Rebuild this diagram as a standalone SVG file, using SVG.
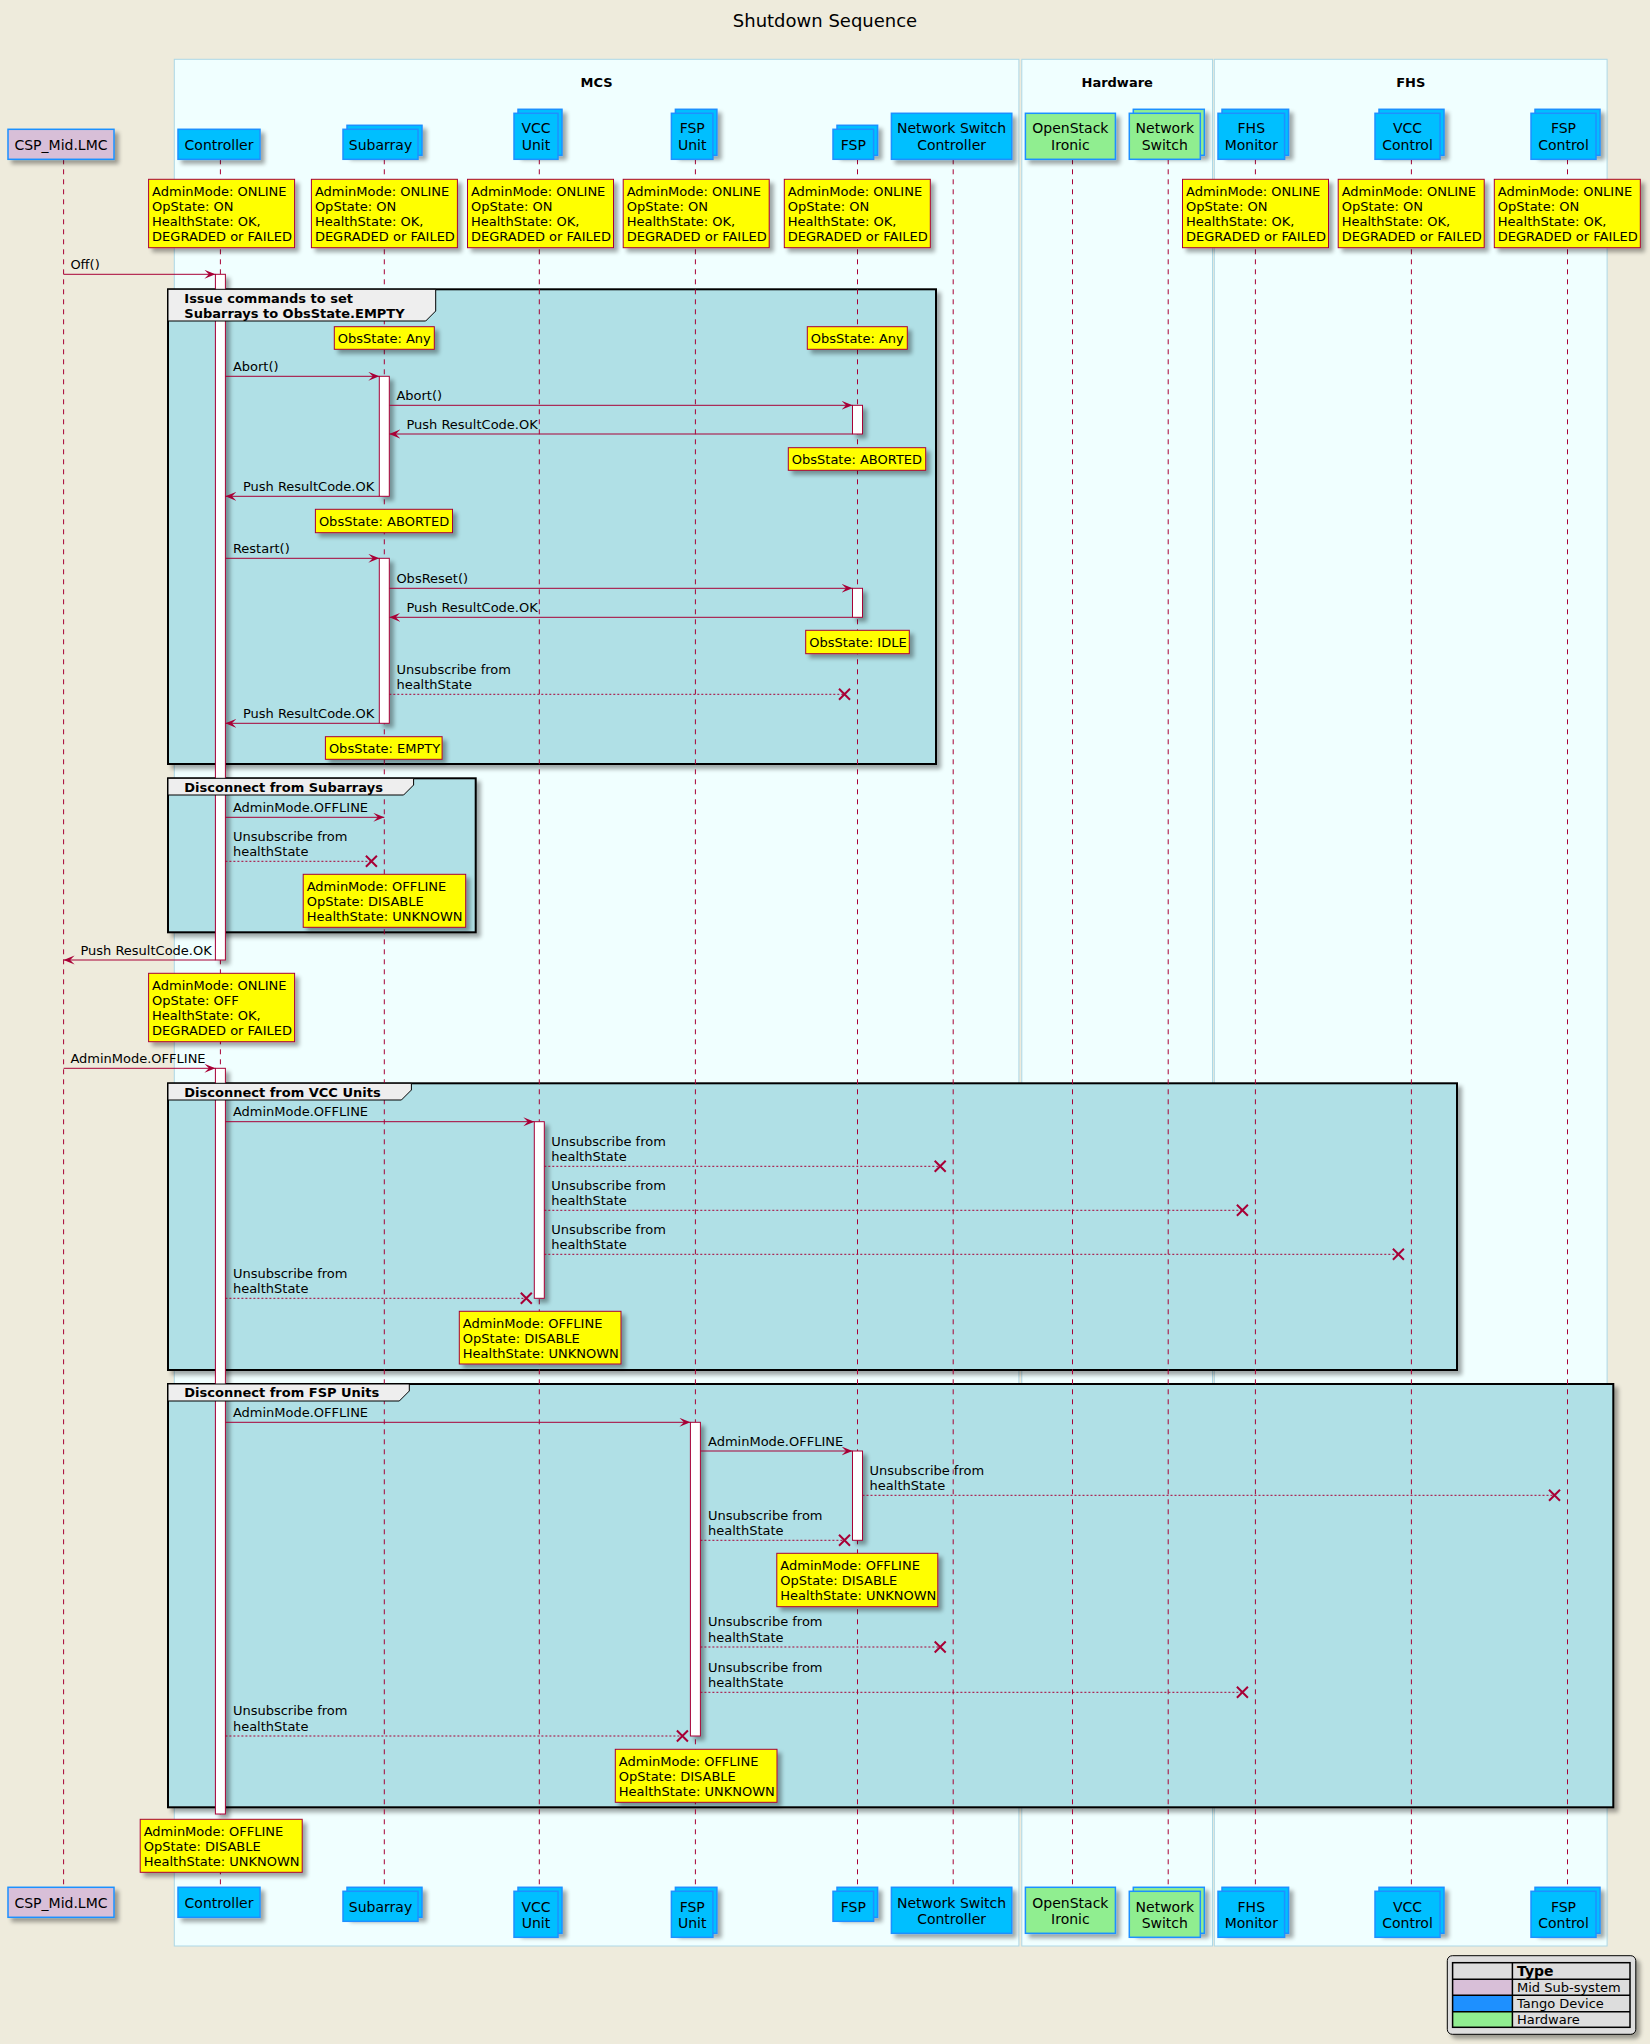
<svg xmlns="http://www.w3.org/2000/svg" width="1650" height="2044" viewBox="0 0 1650 2044">
<defs>
<style>
text{font-family:"DejaVu Sans","Liberation Sans",sans-serif;fill:#000}
.p{font-size:14px;text-anchor:middle}
.m{font-size:13px}
.bl{font-weight:bold}
.lf{stroke:#A80036;stroke-width:1;stroke-dasharray:5,5;fill:none}
.msg{stroke:#A80036;stroke-width:1;fill:none}
.dot{stroke-dasharray:2,2}
.x{stroke:#A80036;stroke-width:2;fill:none}
.note{fill:#FFFF00;stroke:#A80036;stroke-width:1}
.act{fill:#FFFFFF;stroke:#A80036;stroke-width:1}
.tango{fill:#00BFFF;stroke:#1E90FF;stroke-width:1.5}
.hw{fill:#90EE90;stroke:#1E90FF;stroke-width:1.5}
.mid{fill:#D8BFD8;stroke:#1E90FF;stroke-width:1.5}
.grp{fill:#B0E0E6;stroke:#000;stroke-width:2}
.tab{fill:#EEEEEE;stroke:#000;stroke-width:1}
.frame{fill:#F0FFFF;stroke:#ADD8E6;stroke-width:1}
.lg{font-size:13px}
</style>
<filter id="sh" filterUnits="userSpaceOnUse" x="0" y="0" width="1650" height="2044">
<feGaussianBlur in="SourceAlpha" stdDeviation="2"/>
<feOffset dx="4" dy="4"/>
<feComponentTransfer><feFuncA type="linear" slope="0.35"/></feComponentTransfer>
<feMerge><feMergeNode/><feMergeNode in="SourceGraphic"/></feMerge>
</filter>
<marker id="ah" markerUnits="userSpaceOnUse" markerWidth="12" markerHeight="10" refX="11" refY="4.5" orient="auto">
<path d="M0,0 L11,4.5 L0,9 L4.5,4.5 Z" fill="#A80036"/>
</marker>
</defs>
<rect x="0" y="0" width="1650" height="2044" fill="#EEEBDC"/>
<text x="825" y="27" style="font-size:18px" text-anchor="middle">Shutdown Sequence</text>

<g id="frames">
<rect class="frame" x="174.3" y="59.3" width="844.6" height="1886.7"/>
<rect class="frame" x="1021.8" y="59.3" width="190.7" height="1886.7"/>
<rect class="frame" x="1214.3" y="59.3" width="392.8" height="1886.7"/>
<text class="m bl" x="596.6" y="87" text-anchor="middle">MCS</text>
<text class="m bl" x="1117.2" y="87" text-anchor="middle">Hardware</text>
<text class="m bl" x="1410.7" y="87" text-anchor="middle">FHS</text>
</g>

<g id="groups">
<rect class="grp" filter="url(#sh)" x="168" y="289.3" width="768" height="474.7"/>
<rect class="grp" filter="url(#sh)" x="168" y="778.3" width="307.7" height="154"/>
<rect class="grp" filter="url(#sh)" x="168" y="1083.3" width="1289" height="286.7"/>
<rect class="grp" filter="url(#sh)" x="168" y="1384" width="1445.3" height="423.3"/>
</g>

<g id="lifelines">
<line class="lf" x1="63.6" y1="159.3" x2="63.6" y2="1887.3"/>
<line class="lf" x1="220.4" y1="159.3" x2="220.4" y2="1887.3"/>
<line class="lf" x1="384.3" y1="159.3" x2="384.3" y2="1887.3"/>
<line class="lf" x1="539.3" y1="159.3" x2="539.3" y2="1887.3"/>
<line class="lf" x1="695.4" y1="159.3" x2="695.4" y2="1887.3"/>
<line class="lf" x1="857.5" y1="159.3" x2="857.5" y2="1887.3"/>
<line class="lf" x1="953.2" y1="159.3" x2="953.2" y2="1887.3"/>
<line class="lf" x1="1072.5" y1="159.3" x2="1072.5" y2="1887.3"/>
<line class="lf" x1="1168.2" y1="159.3" x2="1168.2" y2="1887.3"/>
<line class="lf" x1="1255.4" y1="159.3" x2="1255.4" y2="1887.3"/>
<line class="lf" x1="1411.4" y1="159.3" x2="1411.4" y2="1887.3"/>
<line class="lf" x1="1567.5" y1="159.3" x2="1567.5" y2="1887.3"/>
</g>

<g id="p-lmc">
<rect class="mid" filter="url(#sh)" x="8" y="129.3" width="106" height="30"/>
<text class="p" x="61" y="150">CSP_Mid.LMC</text>
<rect class="mid" filter="url(#sh)" x="8" y="1887.3" width="106" height="30"/>
<text class="p" x="61" y="1907.5">CSP_Mid.LMC</text>
</g>
<g id="p-controller">
<rect class="tango" filter="url(#sh)" x="178" y="129.3" width="82" height="30"/>
<text class="p" x="219" y="150">Controller</text>
<rect class="tango" filter="url(#sh)" x="178" y="1887.3" width="82" height="30"/>
<text class="p" x="219" y="1907.5">Controller</text>
</g>
<g id="p-subarray">
<rect class="tango" filter="url(#sh)" x="347" y="125.3" width="75" height="30"/>
<rect class="tango" x="343" y="129.3" width="75" height="30"/>
<text class="p" x="380.5" y="150">Subarray</text>
<rect class="tango" filter="url(#sh)" x="347" y="1887.3" width="75" height="30"/>
<rect class="tango" x="343" y="1891.3" width="75" height="30"/>
<text class="p" x="380.5" y="1911.5">Subarray</text>
</g>
<g id="p-vccunit">
<rect class="tango" filter="url(#sh)" x="518" y="109.3" width="44" height="46"/>
<rect class="tango" x="514" y="113.3" width="44" height="46"/>
<text class="p" x="536" y="133">VCC</text><text class="p" x="536" y="149.5">Unit</text>
<rect class="tango" filter="url(#sh)" x="518" y="1887.3" width="44" height="46"/>
<rect class="tango" x="514" y="1891.3" width="44" height="46"/>
<text class="p" x="536" y="1911.5">VCC</text><text class="p" x="536" y="1928">Unit</text>
</g>
<g id="p-fspunit">
<rect class="tango" filter="url(#sh)" x="675.4" y="109.3" width="41.5" height="46"/>
<rect class="tango" x="671.4" y="113.3" width="41.5" height="46"/>
<text class="p" x="692.2" y="133">FSP</text><text class="p" x="692.2" y="149.5">Unit</text>
<rect class="tango" filter="url(#sh)" x="675.4" y="1887.3" width="41.5" height="46"/>
<rect class="tango" x="671.4" y="1891.3" width="41.5" height="46"/>
<text class="p" x="692.2" y="1911.5">FSP</text><text class="p" x="692.2" y="1928">Unit</text>
</g>
<g id="p-fsp">
<rect class="tango" filter="url(#sh)" x="837" y="125.3" width="40.6" height="30"/>
<rect class="tango" x="833" y="129.3" width="40.6" height="30"/>
<text class="p" x="853.3" y="150">FSP</text>
<rect class="tango" filter="url(#sh)" x="837" y="1887.3" width="40.6" height="30"/>
<rect class="tango" x="833" y="1891.3" width="40.6" height="30"/>
<text class="p" x="853.3" y="1911.5">FSP</text>
</g>
<g id="p-nsc">
<rect class="tango" filter="url(#sh)" x="891.4" y="113.3" width="120.4" height="46"/>
<text class="p" x="951.6" y="133">Network Switch</text><text class="p" x="951.6" y="149.5">Controller</text>
<rect class="tango" filter="url(#sh)" x="891.4" y="1887.3" width="120.4" height="46"/>
<text class="p" x="951.6" y="1907.5">Network Switch</text><text class="p" x="951.6" y="1924">Controller</text>
</g>
<g id="p-ironic">
<rect class="hw" filter="url(#sh)" x="1025.4" y="113.3" width="90" height="46"/>
<text class="p" x="1070.4" y="133">OpenStack</text><text class="p" x="1070.4" y="149.5">Ironic</text>
<rect class="hw" filter="url(#sh)" x="1025.4" y="1887.3" width="90" height="46"/>
<text class="p" x="1070.4" y="1907.5">OpenStack</text><text class="p" x="1070.4" y="1924">Ironic</text>
</g>
<g id="p-netswitch">
<rect class="hw" filter="url(#sh)" x="1133.3" y="109.3" width="71" height="46"/>
<rect class="hw" x="1129.3" y="113.3" width="71" height="46"/>
<text class="p" x="1164.8" y="133">Network</text><text class="p" x="1164.8" y="149.5">Switch</text>
<rect class="hw" filter="url(#sh)" x="1133.3" y="1887.3" width="71" height="46"/>
<rect class="hw" x="1129.3" y="1891.3" width="71" height="46"/>
<text class="p" x="1164.8" y="1911.5">Network</text><text class="p" x="1164.8" y="1928">Switch</text>
</g>
<g id="p-fhsmonitor">
<rect class="tango" filter="url(#sh)" x="1222" y="109.3" width="66.6" height="46"/>
<rect class="tango" x="1218" y="113.3" width="66.6" height="46"/>
<text class="p" x="1251.3" y="133">FHS</text><text class="p" x="1251.3" y="149.5">Monitor</text>
<rect class="tango" filter="url(#sh)" x="1222" y="1887.3" width="66.6" height="46"/>
<rect class="tango" x="1218" y="1891.3" width="66.6" height="46"/>
<text class="p" x="1251.3" y="1911.5">FHS</text><text class="p" x="1251.3" y="1928">Monitor</text>
</g>
<g id="p-vcccontrol">
<rect class="tango" filter="url(#sh)" x="1379" y="109.3" width="65" height="46"/>
<rect class="tango" x="1375" y="113.3" width="65" height="46"/>
<text class="p" x="1407.5" y="133">VCC</text><text class="p" x="1407.5" y="149.5">Control</text>
<rect class="tango" filter="url(#sh)" x="1379" y="1887.3" width="65" height="46"/>
<rect class="tango" x="1375" y="1891.3" width="65" height="46"/>
<text class="p" x="1407.5" y="1911.5">VCC</text><text class="p" x="1407.5" y="1928">Control</text>
</g>
<g id="p-fspcontrol">
<rect class="tango" filter="url(#sh)" x="1535" y="109.3" width="65" height="46"/>
<rect class="tango" x="1531" y="113.3" width="65" height="46"/>
<text class="p" x="1563.5" y="133">FSP</text><text class="p" x="1563.5" y="149.5">Control</text>
<rect class="tango" filter="url(#sh)" x="1535" y="1887.3" width="65" height="46"/>
<rect class="tango" x="1531" y="1891.3" width="65" height="46"/>
<text class="p" x="1563.5" y="1911.5">FSP</text><text class="p" x="1563.5" y="1928">Control</text>
</g>

<g id="activations">
<rect class="act" filter="url(#sh)" x="215.4" y="274.3" width="10" height="685.7"/>
<rect class="act" filter="url(#sh)" x="215.4" y="1068.3" width="10" height="745.7"/>
<rect class="act" filter="url(#sh)" x="379.3" y="376.3" width="10" height="120"/>
<rect class="act" filter="url(#sh)" x="379.3" y="558.3" width="10" height="165"/>
<rect class="act" filter="url(#sh)" x="852.5" y="405.3" width="10" height="28.7"/>
<rect class="act" filter="url(#sh)" x="852.5" y="588.3" width="10" height="29"/>
<rect class="act" filter="url(#sh)" x="852.5" y="1451" width="10" height="89.3"/>
<rect class="act" filter="url(#sh)" x="534.3" y="1121.7" width="10" height="176.6"/>
<rect class="act" filter="url(#sh)" x="690.4" y="1422.3" width="10" height="313.7"/>
</g>

<g id="group-tabs">
<path class="tab" d="M168,289.3 H435.7 V311 L425.7,321 H168 Z"/>
<text class="m bl" x="184.3" y="303.4">Issue commands to set</text>
<text class="m bl" x="184.3" y="318.4">Subarrays to ObsState.EMPTY</text>
<path class="tab" d="M168,778.3 H413.6 V785 L403.6,795 H168 Z"/>
<text class="m bl" x="184.3" y="792">Disconnect from Subarrays</text>
<path class="tab" d="M168,1083.3 H411.4 V1090 L401.4,1100 H168 Z"/>
<text class="m bl" x="184.3" y="1097">Disconnect from VCC Units</text>
<path class="tab" d="M168,1384 H409.3 V1391 L399.3,1401 H168 Z"/>
<text class="m bl" x="184.3" y="1397">Disconnect from FSP Units</text>
</g>

<g id="connectors">
<line class="msg" x1="63.6" y1="274.3" x2="215.4" y2="274.3" marker-end="url(#ah)"/>
<text class="m" x="70.4" y="268.8">Off()</text>
<line class="msg" x1="225.4" y1="376.3" x2="379.3" y2="376.3" marker-end="url(#ah)"/>
<text class="m" x="232.9" y="370.8">Abort()</text>
<line class="msg" x1="389.3" y1="405.3" x2="852.5" y2="405.3" marker-end="url(#ah)"/>
<text class="m" x="396.4" y="399.8">Abort()</text>
<line class="msg" x1="852.5" y1="434" x2="389.3" y2="434" marker-end="url(#ah)"/>
<text class="m" x="406.4" y="428.5">Push ResultCode.OK</text>
<line class="msg" x1="379.3" y1="496.3" x2="225.4" y2="496.3" marker-end="url(#ah)"/>
<text class="m" x="242.9" y="490.8">Push ResultCode.OK</text>
<line class="msg" x1="225.4" y1="558.3" x2="379.3" y2="558.3" marker-end="url(#ah)"/>
<text class="m" x="232.9" y="552.8">Restart()</text>
<line class="msg" x1="389.3" y1="588.3" x2="852.5" y2="588.3" marker-end="url(#ah)"/>
<text class="m" x="396.4" y="582.8">ObsReset()</text>
<line class="msg" x1="852.5" y1="617.3" x2="389.3" y2="617.3" marker-end="url(#ah)"/>
<text class="m" x="406.4" y="611.8">Push ResultCode.OK</text>
<line class="msg dot" x1="389.3" y1="694.3" x2="844.5" y2="694.3"/>
<path class="x" d="M839,688.8 L850,699.8 M850,688.8 L839,699.8"/>
<text class="m" x="396.4" y="673.6">Unsubscribe from</text>
<text class="m" x="396.4" y="688.8">healthState</text>
<line class="msg" x1="379.3" y1="723.3" x2="225.4" y2="723.3" marker-end="url(#ah)"/>
<text class="m" x="242.9" y="717.8">Push ResultCode.OK</text>

<line class="msg" x1="225.4" y1="817.3" x2="384.3" y2="817.3" marker-end="url(#ah)"/>
<text class="m" x="232.9" y="811.8">AdminMode.OFFLINE</text>
<line class="msg dot" x1="225.4" y1="861.3" x2="371.4" y2="861.3"/>
<path class="x" d="M365.9,855.8 L376.9,866.8 M376.9,855.8 L365.9,866.8"/>
<text class="m" x="232.9" y="840.6">Unsubscribe from</text>
<text class="m" x="232.9" y="855.8">healthState</text>
<line class="msg" x1="215.4" y1="960" x2="63.6" y2="960" marker-end="url(#ah)"/>
<text class="m" x="80.4" y="954.5">Push ResultCode.OK</text>

<line class="msg" x1="63.6" y1="1068.3" x2="215.4" y2="1068.3" marker-end="url(#ah)"/>
<text class="m" x="70.4" y="1062.8">AdminMode.OFFLINE</text>
<line class="msg" x1="225.4" y1="1121.7" x2="534.3" y2="1121.7" marker-end="url(#ah)"/>
<text class="m" x="232.9" y="1116.2">AdminMode.OFFLINE</text>
<line class="msg dot" x1="544.3" y1="1166.3" x2="940.2" y2="1166.3"/>
<path class="x" d="M934.7,1160.8 L945.7,1171.8 M945.7,1160.8 L934.7,1171.8"/>
<text class="m" x="551.3" y="1145.6">Unsubscribe from</text>
<text class="m" x="551.3" y="1160.8">healthState</text>
<line class="msg dot" x1="544.3" y1="1210.3" x2="1242.4" y2="1210.3"/>
<path class="x" d="M1236.9,1204.8 L1247.9,1215.8 M1247.9,1204.8 L1236.9,1215.8"/>
<text class="m" x="551.3" y="1189.6">Unsubscribe from</text>
<text class="m" x="551.3" y="1204.8">healthState</text>
<line class="msg dot" x1="544.3" y1="1254.3" x2="1398.4" y2="1254.3"/>
<path class="x" d="M1392.9,1248.8 L1403.9,1259.8 M1403.9,1248.8 L1392.9,1259.8"/>
<text class="m" x="551.3" y="1233.6">Unsubscribe from</text>
<text class="m" x="551.3" y="1248.8">healthState</text>
<line class="msg dot" x1="225.4" y1="1298.3" x2="526.3" y2="1298.3"/>
<path class="x" d="M520.8,1292.8 L531.8,1303.8 M531.8,1292.8 L520.8,1303.8"/>
<text class="m" x="232.9" y="1277.6">Unsubscribe from</text>
<text class="m" x="232.9" y="1292.8">healthState</text>

<line class="msg" x1="225.4" y1="1422.3" x2="690.4" y2="1422.3" marker-end="url(#ah)"/>
<text class="m" x="232.9" y="1416.8">AdminMode.OFFLINE</text>
<line class="msg" x1="700.4" y1="1451" x2="852.5" y2="1451" marker-end="url(#ah)"/>
<text class="m" x="708" y="1445.5">AdminMode.OFFLINE</text>
<line class="msg dot" x1="862.5" y1="1495.3" x2="1554.5" y2="1495.3"/>
<path class="x" d="M1549,1489.8 L1560,1500.8 M1560,1489.8 L1549,1500.8"/>
<text class="m" x="869.6" y="1474.6">Unsubscribe from</text>
<text class="m" x="869.6" y="1489.8">healthState</text>
<line class="msg dot" x1="700.4" y1="1540.3" x2="844.5" y2="1540.3"/>
<path class="x" d="M839,1534.8 L850,1545.8 M850,1534.8 L839,1545.8"/>
<text class="m" x="708" y="1519.6">Unsubscribe from</text>
<text class="m" x="708" y="1534.8">healthState</text>
<line class="msg dot" x1="700.4" y1="1647" x2="940.2" y2="1647"/>
<path class="x" d="M934.7,1641.5 L945.7,1652.5 M945.7,1641.5 L934.7,1652.5"/>
<text class="m" x="708" y="1626.3">Unsubscribe from</text>
<text class="m" x="708" y="1641.5">healthState</text>
<line class="msg dot" x1="700.4" y1="1692.3" x2="1242.4" y2="1692.3"/>
<path class="x" d="M1236.9,1686.8 L1247.9,1697.8 M1247.9,1686.8 L1236.9,1697.8"/>
<text class="m" x="708" y="1671.6">Unsubscribe from</text>
<text class="m" x="708" y="1686.8">healthState</text>
<line class="msg dot" x1="225.4" y1="1736" x2="682.4" y2="1736"/>
<path class="x" d="M676.9,1730.5 L687.9,1741.5 M687.9,1730.5 L676.9,1741.5"/>
<text class="m" x="232.9" y="1715.3">Unsubscribe from</text>
<text class="m" x="232.9" y="1730.5">healthState</text>
</g>

<g id="notes-initial">
<rect class="note" filter="url(#sh)" x="148.6" y="179.3" width="146" height="68.4"/>
<text class="m" x="152.1" y="196.3">AdminMode: ONLINE</text><text class="m" x="152.1" y="211.3">OpState: ON</text><text class="m" x="152.1" y="226.3">HealthState: OK,</text><text class="m" x="152.1" y="241.3">DEGRADED or FAILED</text>
<rect class="note" filter="url(#sh)" x="311.4" y="179.3" width="146" height="68.4"/>
<text class="m" x="314.9" y="196.3">AdminMode: ONLINE</text><text class="m" x="314.9" y="211.3">OpState: ON</text><text class="m" x="314.9" y="226.3">HealthState: OK,</text><text class="m" x="314.9" y="241.3">DEGRADED or FAILED</text>
<rect class="note" filter="url(#sh)" x="467.5" y="179.3" width="146" height="68.4"/>
<text class="m" x="471" y="196.3">AdminMode: ONLINE</text><text class="m" x="471" y="211.3">OpState: ON</text><text class="m" x="471" y="226.3">HealthState: OK,</text><text class="m" x="471" y="241.3">DEGRADED or FAILED</text>
<rect class="note" filter="url(#sh)" x="623.2" y="179.3" width="146" height="68.4"/>
<text class="m" x="626.7" y="196.3">AdminMode: ONLINE</text><text class="m" x="626.7" y="211.3">OpState: ON</text><text class="m" x="626.7" y="226.3">HealthState: OK,</text><text class="m" x="626.7" y="241.3">DEGRADED or FAILED</text>
<rect class="note" filter="url(#sh)" x="784.3" y="179.3" width="146" height="68.4"/>
<text class="m" x="787.8" y="196.3">AdminMode: ONLINE</text><text class="m" x="787.8" y="211.3">OpState: ON</text><text class="m" x="787.8" y="226.3">HealthState: OK,</text><text class="m" x="787.8" y="241.3">DEGRADED or FAILED</text>
<rect class="note" filter="url(#sh)" x="1182.5" y="179.3" width="146" height="68.4"/>
<text class="m" x="1186" y="196.3">AdminMode: ONLINE</text><text class="m" x="1186" y="211.3">OpState: ON</text><text class="m" x="1186" y="226.3">HealthState: OK,</text><text class="m" x="1186" y="241.3">DEGRADED or FAILED</text>
<rect class="note" filter="url(#sh)" x="1338.2" y="179.3" width="146" height="68.4"/>
<text class="m" x="1341.7" y="196.3">AdminMode: ONLINE</text><text class="m" x="1341.7" y="211.3">OpState: ON</text><text class="m" x="1341.7" y="226.3">HealthState: OK,</text><text class="m" x="1341.7" y="241.3">DEGRADED or FAILED</text>
<rect class="note" filter="url(#sh)" x="1494.3" y="179.3" width="146" height="68.4"/>
<text class="m" x="1497.8" y="196.3">AdminMode: ONLINE</text><text class="m" x="1497.8" y="211.3">OpState: ON</text><text class="m" x="1497.8" y="226.3">HealthState: OK,</text><text class="m" x="1497.8" y="241.3">DEGRADED or FAILED</text>
</g>

<g id="notes-sequence">
<rect class="note" filter="url(#sh)" x="334.3" y="326.7" width="100" height="22.6"/>
<text class="m" x="337.8" y="343">ObsState: Any</text>
<rect class="note" filter="url(#sh)" x="807.3" y="326.7" width="100" height="22.6"/>
<text class="m" x="810.8" y="343">ObsState: Any</text>
<rect class="note" filter="url(#sh)" x="788.3" y="447.7" width="137.4" height="22.6"/>
<text class="m" x="791.8" y="464">ObsState: ABORTED</text>
<rect class="note" filter="url(#sh)" x="315.4" y="509.3" width="137.1" height="23.4"/>
<text class="m" x="318.9" y="525.8">ObsState: ABORTED</text>
<rect class="note" filter="url(#sh)" x="805.7" y="630.3" width="103.6" height="23.4"/>
<text class="m" x="809.2" y="646.8">ObsState: IDLE</text>
<rect class="note" filter="url(#sh)" x="325.4" y="736.7" width="116.7" height="22.6"/>
<text class="m" x="328.9" y="753">ObsState: EMPTY</text>
<rect class="note" filter="url(#sh)" x="303.2" y="874.3" width="162.5" height="53"/>
<text class="m" x="306.7" y="890.5">AdminMode: OFFLINE</text><text class="m" x="306.7" y="905.7">OpState: DISABLE</text><text class="m" x="306.7" y="920.9">HealthState: UNKNOWN</text>
<rect class="note" filter="url(#sh)" x="148.6" y="973.3" width="146" height="68.4"/>
<text class="m" x="152.1" y="990.3">AdminMode: ONLINE</text><text class="m" x="152.1" y="1005.3">OpState: OFF</text><text class="m" x="152.1" y="1020.3">HealthState: OK,</text><text class="m" x="152.1" y="1035.3">DEGRADED or FAILED</text>
<rect class="note" filter="url(#sh)" x="459.3" y="1311.3" width="161.7" height="52.7"/>
<text class="m" x="462.8" y="1327.9">AdminMode: OFFLINE</text><text class="m" x="462.8" y="1343.1">OpState: DISABLE</text><text class="m" x="462.8" y="1358.3">HealthState: UNKNOWN</text>
<rect class="note" filter="url(#sh)" x="776.8" y="1553.3" width="161" height="53.4"/>
<text class="m" x="780.3" y="1569.5">AdminMode: OFFLINE</text><text class="m" x="780.3" y="1584.7">OpState: DISABLE</text><text class="m" x="780.3" y="1599.9">HealthState: UNKNOWN</text>
<rect class="note" filter="url(#sh)" x="615.3" y="1749.3" width="161.7" height="53"/>
<text class="m" x="618.8" y="1765.5">AdminMode: OFFLINE</text><text class="m" x="618.8" y="1780.7">OpState: DISABLE</text><text class="m" x="618.8" y="1795.9">HealthState: UNKNOWN</text>
<rect class="note" filter="url(#sh)" x="140.2" y="1819.3" width="162" height="53"/>
<text class="m" x="143.7" y="1835.5">AdminMode: OFFLINE</text><text class="m" x="143.7" y="1850.7">OpState: DISABLE</text><text class="m" x="143.7" y="1865.9">HealthState: UNKNOWN</text>
</g>

<g id="legend">
<rect filter="url(#sh)" x="1447.3" y="1955.7" width="188.5" height="78.6" rx="5" fill="#DDDDDD" stroke="#000" stroke-width="1"/>
<rect x="1452.6" y="1962.7" width="177.4" height="64.6" fill="#DDDDDD"/>
<rect x="1452.6" y="1979.3" width="59.8" height="16" fill="#D8BFD8"/>
<rect x="1452.6" y="1995.3" width="59.8" height="16.4" fill="#1E90FF"/>
<rect x="1452.6" y="2011.7" width="59.8" height="15.6" fill="#90EE90"/>
<g stroke="#000" stroke-width="1.5">
<line x1="1512.4" y1="1962.7" x2="1512.4" y2="2027.3"/>
<line x1="1452.6" y1="1979.3" x2="1630" y2="1979.3"/>
<line x1="1452.6" y1="1995.3" x2="1630" y2="1995.3"/>
<line x1="1452.6" y1="2011.7" x2="1630" y2="2011.7"/>
</g>
<rect x="1452.6" y="1962.7" width="177.4" height="64.6" fill="none" stroke="#000" stroke-width="1.5"/>
<text x="1517" y="1976" class="lg bl" style="font-size:14px">Type</text>
<text x="1517" y="1992" class="lg">Mid Sub-system</text>
<text x="1517" y="2008" class="lg">Tango Device</text>
<text x="1517" y="2024.3" class="lg">Hardware</text>
</g>
</svg>
